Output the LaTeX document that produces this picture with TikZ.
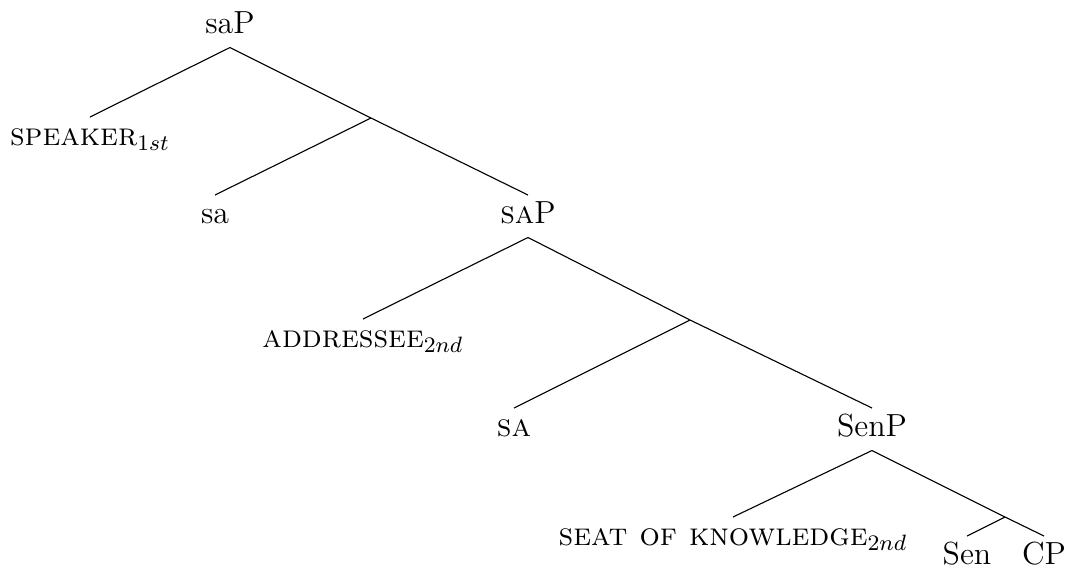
\documentclass[tikz,border=0pt]{standalone}
\begin{document}
\begin{tikzpicture}[
        x=0.36pt,
        y=-0.36pt,
        font=\fontsize{11.5}{13}\selectfont
    ]
    \tikzset{
        lbl/.style = {anchor=north, inner xsep=0pt, inner ysep=2.5pt, text height=7.6pt, text depth=2.3pt},
        branch/.style = {-},
    }
    \useasboundingbox (0,0) rectangle (1072,567);
    \node[lbl] at (230,5) (sap) {saP};
    \node[lbl] at (90,117) (spk) {\textsc{speaker}$_{1st}$};
    \coordinate (n1) at (371,118);
    \node[lbl] at (215,195) (sa) {sa};
    \node[lbl] at (528,195) (sAP) {\textsc{sa}P};
    \node[lbl] at (363,319) (addr) {\textsc{addressee}$_{2nd}$};
    \coordinate (n2) at (690,320);
    \node[lbl] at (514,408) (SA) {\textsc{sa}};
    \node[lbl] at (872,408) (senp) {SenP};
    \node[lbl] at (733,517) (seat) {\textsc{seat of knowledge}$_{2nd}$};
    \coordinate (n3) at (1005,517);
    \node[lbl] at (967,536) (sen) {Sen};
    \node[lbl] at (1044,536) (cp) {CP};
    %
    \draw[branch] (sap.south) -- (spk.north);
    \draw[branch] (sap.south) -- (n1);
    \draw[branch] (n1) -- (sa.north);
    \draw[branch] (n1) -- (sAP.north);
    %
    \draw[branch] (sAP.south) -- (addr.north);
    \draw[branch] (sAP.south) -- (n2);
    \draw[branch] (n2) -- (SA.north);
    \draw[branch] (n2) -- (senp.north);
    %
    \draw[branch] (senp.south) -- (seat.north);
    \draw[branch] (senp.south) -- (n3);
    \draw[branch] (n3) -- (sen.north);
    \draw[branch] (n3) -- (cp.north);
\end{tikzpicture}
\end{document}
